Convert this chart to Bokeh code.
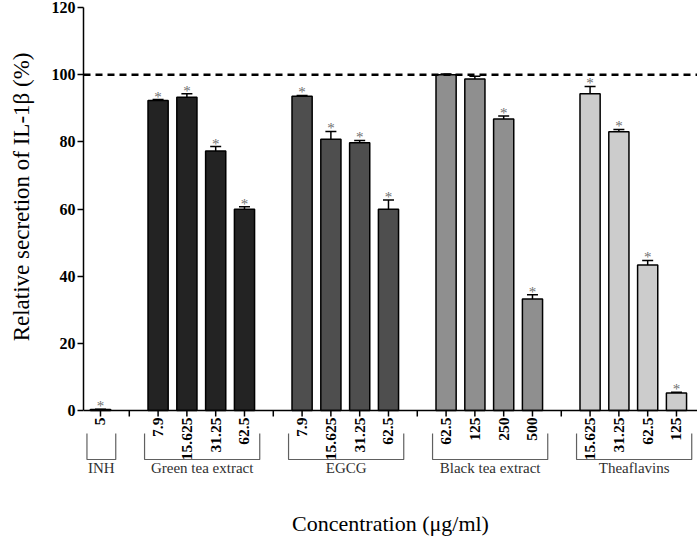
import numpy as np
from bokeh.plotting import figure
from bokeh.models import ColumnDataSource, Span, Whisker, TeeHead, FixedTicker, Range1d, Title
from bokeh.core.properties import value
from bokeh.embed import file_html
from bokeh.resources import INLINE

# ---------------- data ----------------
groups = ["INH", "Green tea extract", "EGCG", "Black tea extract", "Theaflavins"]
group_colors = ["#232323", "#232323", "#4e4e4e", "#8f8f8f", "#cccccc"]
conc_labels = [
    ["5"],
    ["7.9", "15.625", "31.25", "62.5"],
    ["7.9", "15.625", "31.25", "62.5"],
    ["62.5", "125", "250", "500"],
    ["15.625", "31.25", "62.5", "125"],
]
values = [
    [0.3],
    [92.3, 93.3, 77.3, 59.9],
    [93.6, 80.8, 79.7, 59.9],
    [100.0, 98.7, 86.8, 33.2],
    [94.3, 83.0, 43.3, 5.2],
]
errors = [
    [0.1],
    [0.3, 1.0, 1.3, 0.8],
    [0.2, 2.3, 0.7, 2.8],
    [0.2, 0.8, 0.9, 1.3],
    [2.2, 0.7, 1.4, 0.2],
]
significant = [
    [True],
    [True, True, True, True],
    [True, True, True, True],
    [False, False, True, True],
    [True, True, True, True],
]
control_level = 100
y_ticks = [0, 20, 40, 60, 80, 100, 120]
y_label = "Relative secretion of IL-1\u03b2 (%)"
x_label = "Concentration (\u03bcg/ml)"

# ---------------- layout helpers ----------------
SERIF = "Liberation Serif"
frame_top_px, zero_px, frame_bot_px = 7, 410, 478
k = (zero_px - frame_top_px) / 120.0          # px per unit
y_bottom = -(frame_bot_px - zero_px) / k

bar_x, bar_top, bar_err, bar_col, bar_sig = [], [], [], [], []
tick_x, tick_lab = [], []
brackets_xs, brackets_ys, glab_x = [], [], []
slot = 0
for gi, labs in enumerate(conc_labels):
    if gi > 0:
        tick_x.append(slot)
        tick_lab.append("")
        slot += 1
    first = slot
    for j, lab in enumerate(labs):
        bar_x.append(slot)
        bar_top.append(values[gi][j])
        bar_err.append(errors[gi][j])
        bar_col.append(group_colors[gi])
        bar_sig.append(significant[gi][j])
        tick_x.append(slot)
        tick_lab.append(lab)
        slot += 1
    last = slot - 1
    l, r = first - 0.47, last + 0.53
    bt = -(23 / k)
    bb = -(49 / k)
    brackets_xs.append([l, l, r, r])
    brackets_ys.append([bt, bb, bb, bt])
    glab_x.append((l + r) / 2)

src = ColumnDataSource(dict(x=bar_x, top=bar_top, color=bar_col,
                            upper=[t + e for t, e in zip(bar_top, bar_err)],
                            lower=bar_top))

p = figure(frame_width=614, frame_height=frame_bot_px - frame_top_px,
           x_range=Range1d(-0.59, 20.73), y_range=Range1d(y_bottom, 120),
           output_backend="svg", toolbar_location=None,
           min_border_left=83, min_border_right=0, min_border_top=frame_top_px,
           min_border_bottom=0)
p.grid.visible = False
p.outline_line_color = None
p.background_fill_color = "white"

# bars
p.vbar(x="x", top="top", bottom=0, width=0.7, source=src,
       fill_color="color", line_color="black", line_width=1.5)

# error bars (upper only)
p.add_layout(Whisker(source=src, base="x", upper="upper", lower="lower", dimension="height",
                     upper_head=TeeHead(size=11, line_width=1.5, line_color="black"),
                     lower_head=None, line_width=1.5, line_color="black"))

# significance stars
sx = [x for x, s in zip(bar_x, bar_sig) if s]
sy = [t + e for t, e, s in zip(bar_top, bar_err, bar_sig) if s]
p.text(x=sx, y=sy, text=["*"] * len(sx), text_align="center", text_baseline="alphabetic",
       y_offset=-3, text_font=value(SERIF), text_font_size="15px", text_color="#707070")

# control line at 100 %
p.add_layout(Span(location=control_level, dimension="width", line_color="black",
                  line_width=2.5, line_dash="7 5"))

# x axis at 0
p.add_layout(Span(location=0, dimension="width", line_color="black", line_width=1.5))
p.ray(x=tick_x, y=[0] * len(tick_x), length=6, length_units="screen",
      angle=-np.pi / 2, line_color="black", line_width=1.5)
p.text(x=tick_x, y=[0] * len(tick_x), text=tick_lab, angle=np.pi / 2,
       text_align="right", text_baseline="middle", y_offset=7,
       text_font=value(SERIF), text_font_style="bold", text_font_size="15.5px",
       text_color="black")

# group brackets and names
p.multi_line(xs=brackets_xs, ys=brackets_ys, line_color="#606060", line_width=1.2)
p.text(x=glab_x, y=[brackets_ys[0][1]] * len(glab_x), text=groups, text_align="center",
       text_baseline="top", y_offset=0, text_font=value(SERIF), text_font_size="15px",
       text_color="#303030")

# y axis
ya = p.yaxis[0]
ya.bounds = (0, 120)
ya.ticker = FixedTicker(ticks=y_ticks)
ya.axis_line_width = 1.5
ya.major_tick_line_width = 1.5
ya.major_tick_out = 6
ya.major_tick_in = 0
ya.minor_tick_out = 0
ya.minor_tick_in = 0
ya.major_label_standoff = 2
ya.major_label_text_font = SERIF
ya.major_label_text_font_style = "bold"
ya.major_label_text_font_size = "16px"
ya.major_label_text_color = "black"
ya.axis_label = " "
ya.axis_label_standoff = 5
ya.axis_label_text_font_size = "2px"

p.add_layout(Title(text=y_label, align="right", offset=45, text_font=SERIF,
                   text_font_style="normal", text_font_size="23px",
                   text_color="black"), "left")

# x axis: label only
xa = p.xaxis[0]
xa.ticker = FixedTicker(ticks=[])
xa.axis_line_color = None
xa.major_tick_out = 0
xa.major_tick_in = 0
xa.minor_tick_out = 0
xa.minor_tick_in = 0
xa.axis_label = x_label
xa.axis_label_standoff = 32
xa.axis_label_text_font = SERIF
xa.axis_label_text_font_style = "normal"
xa.axis_label_text_font_size = "22px"
xa.axis_label_text_color = "black"

open("out.html", "w").write(file_html(p, INLINE))
